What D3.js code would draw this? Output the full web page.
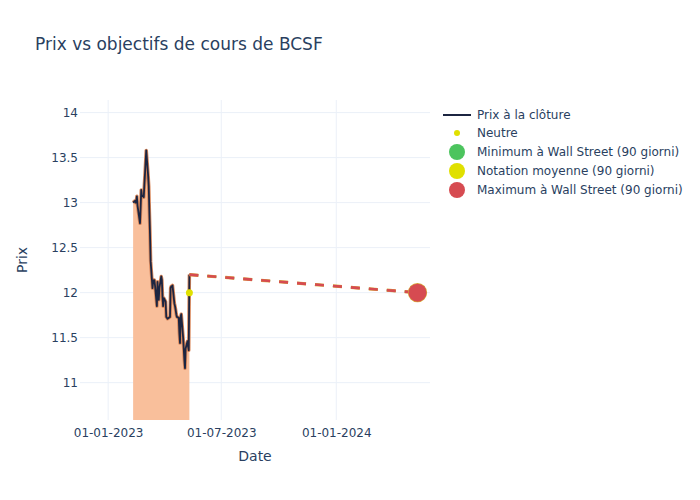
<!DOCTYPE html>
<html>
<head>
<meta charset="utf-8">
<script src="https://cdn.jsdelivr.net/npm/d3@7"></script>
<style>
  body { margin: 0; background: #fff; }
  text { font-family: "DejaVu Sans", sans-serif; fill: #2a3f5f; }
</style>
</head>
<body>
<div id="chart"></div>
<script>
// closing prices, one per trading day
var dates = [
  "2023-02-10",
  "2023-02-13","2023-02-14","2023-02-15","2023-02-16","2023-02-17",
  "2023-02-21","2023-02-22","2023-02-23","2023-02-24",
  "2023-02-27","2023-02-28","2023-03-01","2023-03-02","2023-03-03",
  "2023-03-06","2023-03-07","2023-03-08","2023-03-09","2023-03-10",
  "2023-03-13","2023-03-14","2023-03-15","2023-03-16","2023-03-17",
  "2023-03-20","2023-03-21","2023-03-22","2023-03-23","2023-03-24",
  "2023-03-27","2023-03-28","2023-03-29","2023-03-30","2023-03-31",
  "2023-04-03","2023-04-04","2023-04-05","2023-04-06",
  "2023-04-10","2023-04-11","2023-04-12","2023-04-13","2023-04-14",
  "2023-04-17","2023-04-18","2023-04-19","2023-04-20","2023-04-21",
  "2023-04-24","2023-04-25","2023-04-26","2023-04-27","2023-04-28",
  "2023-05-01","2023-05-02","2023-05-03","2023-05-04","2023-05-05",
  "2023-05-08","2023-05-09","2023-05-10","2023-05-11"
];
var prices = [
  13.0,
  13.02, 13.0, 13.01, 13.07, 12.97,
  12.77, 12.95, 13.14, 13.08,
  13.06, 13.2, 13.32, 13.45, 13.58,
  13.3, 13.18, 12.9, 12.65, 12.35,
  12.05, 12.12, 12.14, 12.14, 12.08,
  11.85, 12.12, 12.0, 11.92, 12.05,
  12.18, 12.14, 11.95, 11.85, 11.94,
  11.9, 11.73, 11.72, 11.71,
  11.73, 12.05, 12.07, 12.07, 12.08,
  11.88, 11.85, 11.81, 11.76, 11.73,
  11.72, 11.55, 11.44, 11.73, 11.76,
  11.5, 11.38, 11.25, 11.16, 11.38,
  11.46, 11.4, 11.36, 12.2
];

var neutralDate = "2023-05-11";
var neutralValue = 12.0;

var targetDate = "2024-05-10";
var targetNames = ["Minimum à Wall Street (90 giorni)", "Notation moyenne (90 giorni)", "Maximum à Wall Street (90 giorni)"];
var targetValues = [12.0, 12.0, 12.0];
var targetColors = ["#4cc45e", "#e0e000", "#d64b51"];

var xTicks = ["2023-01-01", "2023-07-01", "2024-01-01"];
var yTicks = [11, 11.5, 12, 12.5, 13, 13.5, 14];

var width = 700, height = 500;
var margin = {left: 80, right: 270, top: 100, bottom: 80};
var parse = d3.timeParse("%Y-%m-%d");

var x = d3.scaleTime()
    .domain([parse("2022-11-17"), parse("2024-05-30")])
    .range([margin.left, width - margin.right]);
var y = d3.scaleLinear()
    .domain([10.585, 14.14])
    .range([height - margin.bottom, margin.top]);

var svg = d3.select("#chart").append("svg")
    .attr("width", width)
    .attr("height", height);

svg.append("text")
    .attr("x", 35).attr("y", 50)
    .style("font-size", "17px")
    .text("Prix vs objectifs de cours de BCSF");

// grid
svg.append("g").selectAll("line")
    .data(xTicks).enter().append("line")
    .attr("x1", function(d) { return x(parse(d)); })
    .attr("x2", function(d) { return x(parse(d)); })
    .attr("y1", margin.top).attr("y2", height - margin.bottom)
    .attr("stroke", "#ebf0f8");
svg.append("g").selectAll("line")
    .data(yTicks).enter().append("line")
    .attr("x1", margin.left).attr("x2", width - margin.right)
    .attr("y1", function(d) { return y(d); })
    .attr("y2", function(d) { return y(d); })
    .attr("stroke", "#ebf0f8");

// axes
var xAxis = svg.append("g")
    .attr("transform", "translate(0," + (height - margin.bottom) + ")")
    .call(d3.axisBottom(x)
        .tickValues(xTicks.map(parse))
        .tickFormat(d3.timeFormat("%d-%m-%Y"))
        .tickSize(0).tickPadding(8));
var yAxis = svg.append("g")
    .attr("transform", "translate(" + margin.left + ",0)")
    .call(d3.axisLeft(y)
        .tickValues(yTicks)
        .tickFormat(d3.format("~g"))
        .tickSize(0).tickPadding(2));
[xAxis, yAxis].forEach(function(a) {
  a.select(".domain").remove();
  a.selectAll("text").style("font-size", "12px").style("font-family", null).attr("fill", "#2a3f5f");
});

svg.append("text")
    .attr("x", (margin.left + width - margin.right) / 2).attr("y", 461)
    .attr("text-anchor", "middle").style("font-size", "14px")
    .text("Date");
svg.append("text")
    .attr("transform", "translate(27," + ((margin.top + height - margin.bottom) / 2) + ") rotate(-90)")
    .attr("text-anchor", "middle").style("font-size", "14px")
    .text("Prix");

var series = dates.map(function(d, i) { return {date: parse(d), value: prices[i]}; });

var plot = svg.append("g");

// area under closing prices
plot.append("path")
    .datum(series)
    .attr("fill", "#f9bf9b")
    .attr("stroke", "none")
    .attr("d", d3.area()
        .x(function(d) { return x(d.date); })
        .y0(height - margin.bottom)
        .y1(function(d) { return y(d.value); }));
plot.append("path")
    .datum(series)
    .attr("fill", "none")
    .attr("stroke", "#d9875a")
    .attr("stroke-width", 3.5)
    .attr("stroke-linejoin", "round")
    .attr("d", d3.line()
        .x(function(d) { return x(d.date); })
        .y(function(d) { return y(d.value); }));
plot.append("path")
    .datum(series)
    .attr("fill", "none")
    .attr("stroke", "#1c2541")
    .attr("stroke-width", 1.8)
    .attr("stroke-linejoin", "round")
    .attr("d", d3.line()
        .x(function(d) { return x(d.date); })
        .y(function(d) { return y(d.value); }));

// target lines
var last = series[series.length - 1];
targetValues.forEach(function(v, i) {
  plot.append("line")
      .attr("x1", x(last.date)).attr("y1", y(last.value))
      .attr("x2", x(parse(targetDate))).attr("y2", y(v))
      .attr("stroke", i == 1 ? "#d9a93a" : targetColors[i])
      .attr("stroke-width", i == 0 ? 2 : (i == 1 ? 3.2 : 2.6))
      .attr("stroke-dasharray", "9,9");
});

plot.append("circle")
    .attr("cx", x(parse(neutralDate))).attr("cy", y(neutralValue))
    .attr("r", 3.5).attr("fill", "#e0e000");

targetValues.forEach(function(v, i) {
  plot.append("circle")
      .attr("cx", x(parse(targetDate))).attr("cy", y(v))
      .attr("r", i == 1 ? 9.6 : 9)
      .attr("fill", i == 1 ? "#d9a93a" : targetColors[i]);
});

// legend
var legend = svg.append("g").attr("transform", "translate(443,0)");
var rows = [115, 133, 152, 171, 190];
legend.append("line")
    .attr("x1", 0).attr("x2", 28).attr("y1", rows[0]).attr("y2", rows[0])
    .attr("stroke", "#1c2541").attr("stroke-width", 2);
legend.append("circle").attr("cx", 14).attr("cy", rows[1]).attr("r", 3).attr("fill", "#e0e000");
targetNames.forEach(function(n, i) {
  legend.append("circle").attr("cx", 14).attr("cy", rows[i + 2]).attr("r", 8).attr("fill", targetColors[i]);
});
var labels = ["Prix à la clôture", "Neutre"].concat(targetNames);
legend.selectAll("text.lbl")
    .data(labels).enter().append("text")
    .attr("class", "lbl")
    .attr("x", 34)
    .attr("y", function(d, i) { return rows[i] + 4; })
    .style("font-size", "12px")
    .text(function(d) { return d; });
</script>
</body>
</html>
